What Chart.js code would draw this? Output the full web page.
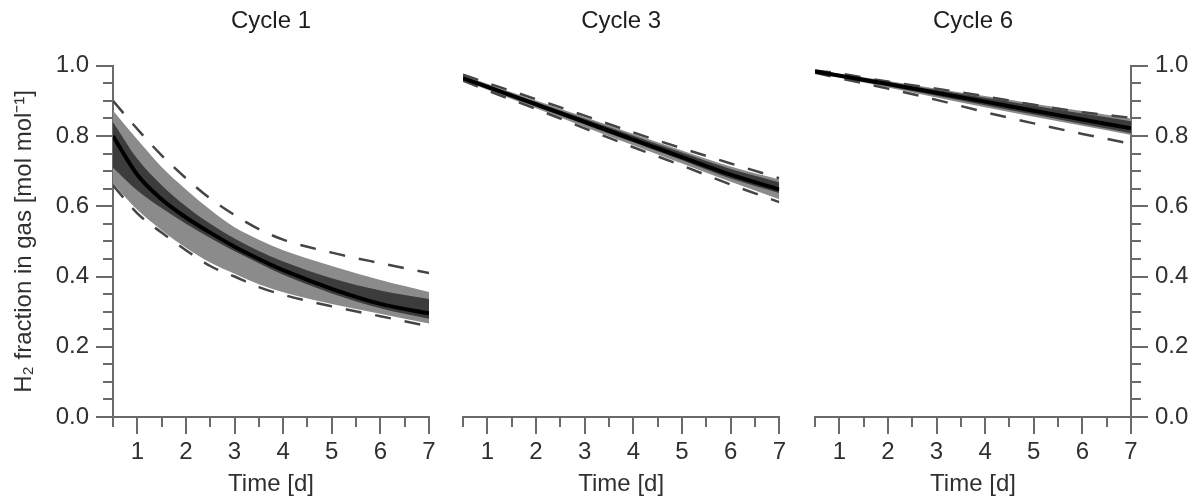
<!DOCTYPE html>
<html>
<head>
<meta charset="utf-8">
<title>H2 fraction in gas</title>
<script src="https://cdn.jsdelivr.net/npm/chart.js@4.4.1/dist/chart.umd.min.js"></script>
<style>
  body { margin: 0; background: #fff; }
  #wrap { position: relative; width: 1197px; height: 503px; overflow: hidden; }
  .panel { position: absolute; top: 0; height: 503px; }
</style>
</head>
<body>
<div id="wrap">
  <div class="panel" style="left:0"><canvas id="cycle1" width="445" height="503"></canvas></div>
  <div class="panel" style="left:445px"><canvas id="cycle3" width="345" height="503"></canvas></div>
  <div class="panel" style="left:790px"><canvas id="cycle6" width="407" height="503"></canvas></div>
</div>
<script>
// time axis (days) and shared tick labels
const xTicks = [1, 2, 3, 4, 5, 6, 7];
const yTicks = [0, 0.2, 0.4, 0.6, 0.8, 1.0];

// Cycle 1
const days1 = [0.5, 1, 1.5, 2, 2.5, 3, 3.5, 4, 5, 6, 7];
const c1Mean    = [0.800, 0.690, 0.620, 0.568, 0.525, 0.485, 0.450, 0.418, 0.365, 0.322, 0.295];
const c1DarkHi  = [0.840, 0.735, 0.660, 0.600, 0.550, 0.508, 0.473, 0.443, 0.395, 0.360, 0.336];
const c1DarkLo  = [0.710, 0.645, 0.595, 0.550, 0.510, 0.472, 0.438, 0.405, 0.352, 0.310, 0.280];
const c1LightHi = [0.873, 0.790, 0.712, 0.648, 0.590, 0.540, 0.505, 0.475, 0.430, 0.390, 0.356];
const c1LightLo = [0.665, 0.590, 0.532, 0.482, 0.440, 0.408, 0.378, 0.355, 0.322, 0.294, 0.266];
const c1DashHi  = [0.900, 0.820, 0.745, 0.680, 0.622, 0.575, 0.535, 0.505, 0.468, 0.438, 0.410];
const c1DashLo  = [0.660, 0.580, 0.525, 0.475, 0.430, 0.400, 0.370, 0.348, 0.315, 0.287, 0.258];

// Cycle 3 and Cycle 6
const days = [0.5, 1, 2, 3, 4, 5, 6, 7];
const c3Mean    = [0.965, 0.940, 0.890, 0.840, 0.790, 0.740, 0.690, 0.648];
const c3DarkHi  = [0.970, 0.945, 0.897, 0.849, 0.801, 0.753, 0.706, 0.668];
const c3DarkLo  = [0.961, 0.936, 0.884, 0.833, 0.782, 0.731, 0.679, 0.638];
const c3LightHi = [0.973, 0.949, 0.901, 0.854, 0.806, 0.759, 0.713, 0.676];
const c3LightLo = [0.958, 0.932, 0.879, 0.826, 0.774, 0.722, 0.670, 0.620];
const c3DashHi  = [0.975, 0.951, 0.905, 0.858, 0.810, 0.765, 0.722, 0.680];
const c3DashLo  = [0.958, 0.930, 0.877, 0.822, 0.768, 0.716, 0.662, 0.612];

const c6Mean    = [0.984, 0.972, 0.948, 0.923, 0.898, 0.872, 0.847, 0.822];
const c6DarkHi  = [0.987, 0.976, 0.954, 0.931, 0.909, 0.886, 0.864, 0.842];
const c6DarkLo  = [0.981, 0.968, 0.942, 0.915, 0.888, 0.861, 0.834, 0.808];
const c6LightHi = [0.988, 0.978, 0.957, 0.935, 0.914, 0.892, 0.871, 0.850];
const c6LightLo = [0.979, 0.966, 0.938, 0.910, 0.882, 0.855, 0.829, 0.803];
const c6DashHi  = [0.987, 0.978, 0.955, 0.935, 0.913, 0.889, 0.868, 0.852];
const c6DashLo  = [0.980, 0.965, 0.935, 0.903, 0.868, 0.836, 0.806, 0.778];

const FONT = "'Liberation Sans', Arial, Helvetica, sans-serif";
const axisColor = '#6a6a6a';
const textColor = '#303030';

function pts(xs, ys) {
  return xs.map((x, i) => ({ x: x, y: ys[i] }));
}

function makeDatasets(xs, s) {
  const base = { pointRadius: 0, cubicInterpolationMode: 'monotone', fill: false };
  const band = Object.assign({}, base, { borderColor: 'transparent', borderWidth: 0 });
  const dash = Object.assign({}, base, { borderColor: '#454545', borderWidth: 2.5, borderDash: [16, 14] });
  // first dataset is drawn on top
  return [
    Object.assign({}, base, { data: pts(xs, s.mean), borderColor: '#000', borderWidth: 4 }),
    Object.assign({}, dash, { data: pts(xs, s.dashHi) }),
    Object.assign({}, dash, { data: pts(xs, s.dashLo) }),
    Object.assign({}, band, { data: pts(xs, s.darkHi), fill: '+1', backgroundColor: '#3c3c3c' }),
    Object.assign({}, band, { data: pts(xs, s.darkLo) }),
    Object.assign({}, band, { data: pts(xs, s.lightHi), fill: '+1', backgroundColor: '#8b8b8b' }),
    Object.assign({}, band, { data: pts(xs, s.lightLo) })
  ];
}

// major / minor tick marks on the axes
const tickMarks = {
  id: 'tickMarks',
  afterDraw(chart, args, opts) {
    const { ctx, chartArea } = chart;
    const xs = chart.scales.x, ys = chart.scales.y;
    ctx.save();
    ctx.strokeStyle = axisColor;
    ctx.lineWidth = 2;
    ctx.beginPath();
    for (let i = 0; i <= 13; i++) {
      const v = 0.5 + i * 0.5;
      const px = Math.round(xs.getPixelForValue(v));
      const len = i % 2 === 1 ? 17 : 10;
      ctx.moveTo(px, chartArea.bottom);
      ctx.lineTo(px, chartArea.bottom + len);
    }
    if (opts.side) {
      const bx = opts.side === 'left' ? chartArea.left : chartArea.right;
      const dir = opts.side === 'left' ? -1 : 1;
      for (let i = 0; i <= 20; i++) {
        const py = Math.round(ys.getPixelForValue(i * 0.05));
        const len = i % 4 === 0 ? 17 : 10;
        ctx.moveTo(bx, py);
        ctx.lineTo(bx + dir * len, py);
      }
    }
    ctx.stroke();
    ctx.restore();
  }
};

function makeChart(id, title, xs, s, yAxis, pad, yWidth) {
  const yScale = {
    type: 'linear',
    min: 0,
    max: 1,
    display: yAxis !== null,
    position: yAxis || 'left',
    afterBuildTicks: sc => { sc.ticks = yTicks.map(v => ({ value: v })); },
    afterFit: sc => { sc.width = yWidth; },
    grid: { display: false, drawTicks: true, tickLength: 17 },
    border: { display: true, color: axisColor, width: 2 },
    ticks: {
      padding: 7,
      color: textColor,
      font: { family: FONT, size: 24 },
      callback: v => v.toFixed(1)
    },
    title: {
      display: yAxis === 'left',
      text: 'H\u2082 fraction in gas [mol mol\u207B\u00B9]',
      color: textColor,
      font: { family: FONT, size: 24 },
      padding: { top: 10, bottom: 0 }
    }
  };

  return new Chart(document.getElementById(id), {
    type: 'line',
    data: { datasets: makeDatasets(xs, s) },
    plugins: [tickMarks],
    options: {
      responsive: false,
      animation: false,
      layout: { padding: pad },
      scales: {
        x: {
          type: 'linear',
          min: 0.5,
          max: 7,
          afterBuildTicks: sc => { sc.ticks = xTicks.map(v => ({ value: v })); },
          afterFit: sc => { sc.height = 86; },
          grid: { display: false, drawTicks: true, tickLength: 17 },
          border: { display: true, color: axisColor, width: 2 },
          ticks: {
            padding: 4,
            color: textColor,
            maxRotation: 0,
            font: { family: FONT, size: 24 }
          },
          title: {
            display: true,
            text: 'Time [d]',
            color: textColor,
            font: { family: FONT, size: 24 },
            padding: { top: 0, bottom: 4 }
          }
        },
        y: yScale
      },
      plugins: {
        legend: { display: false },
        tooltip: { enabled: false },
        tickMarks: { side: yAxis },
        title: {
          display: true,
          text: title,
          fullSize: false,
          color: '#1e1e1e',
          font: { family: FONT, size: 24, weight: 'normal' },
          padding: { top: 7, bottom: 30 }
        }
      }
    }
  });
}

makeChart('cycle1', 'Cycle 1', days1, {
  mean: c1Mean, darkHi: c1DarkHi, darkLo: c1DarkLo,
  lightHi: c1LightHi, lightLo: c1LightLo, dashHi: c1DashHi, dashLo: c1DashLo
}, 'left', { left: 0, right: 16, top: 0, bottom: 0 }, 113);

makeChart('cycle3', 'Cycle 3', days, {
  mean: c3Mean, darkHi: c3DarkHi, darkLo: c3DarkLo,
  lightHi: c3LightHi, lightLo: c3LightLo, dashHi: c3DashHi, dashLo: c3DashLo
}, null, { left: 18, right: 10, top: 0, bottom: 0 }, 0);

makeChart('cycle6', 'Cycle 6', days, {
  mean: c6Mean, darkHi: c6DarkHi, darkLo: c6DarkLo,
  lightHi: c6LightHi, lightLo: c6LightLo, dashHi: c6DashHi, dashLo: c6DashLo
}, 'right', { left: 25, right: 0, top: 0, bottom: 0 }, 66);
</script>
</body>
</html>
